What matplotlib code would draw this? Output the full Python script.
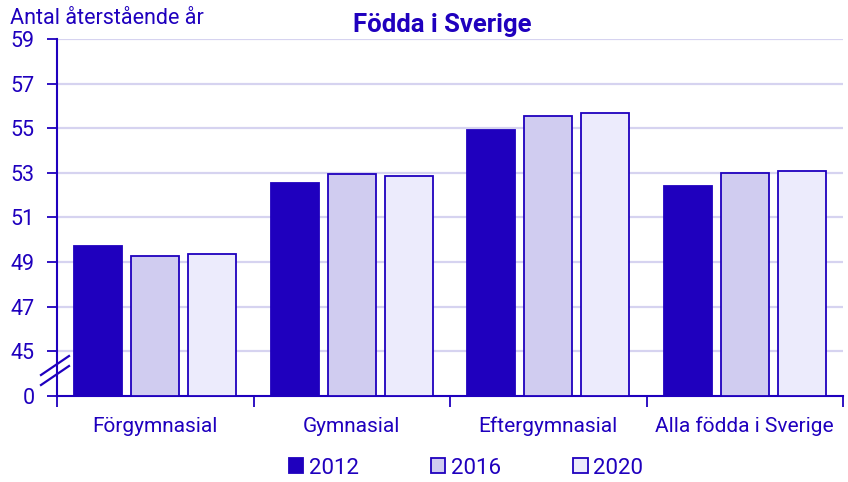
import matplotlib
matplotlib.use("Agg")
import matplotlib.pyplot as plt
from matplotlib.patches import Patch
from matplotlib.lines import Line2D
import numpy as np

plt.rcParams['font.family'] = ['Roboto', 'DejaVu Sans']

categories = ["Förgymnasial", "Gymnasial", "Eftergymnasial", "Alla födda i Sverige"]
years = ["2012", "2016", "2020"]
values_2012 = [49.72, 52.56, 54.91, 52.42]
values_2016 = [49.27, 52.95, 55.56, 52.98]
values_2020 = [49.36, 52.87, 55.70, 53.08]
ytick_values = [45, 47, 49, 51, 53, 55, 57, 59]

DARK = "#1f00be"
colors = [DARK, "#d0ccf0", "#ecebfc"]
GRID = "#d6d3f0"

# axis break: value 0 is drawn at position 43 (gap of two units)
ZERO_POS = 43

fig = plt.figure(figsize=(8.48, 4.82), dpi=100)
ax = fig.add_axes([57/848, 86/482, (843-57)/848, (396-39)/482])

x = np.arange(len(categories))
offsets = [-0.29, 0.0, 0.29]
width = 0.245
for vals, off, col, yr in zip([values_2012, values_2016, values_2020], offsets, colors, years):
    heights = [v - ZERO_POS for v in vals]
    ax.bar(x + off, heights, width=width, bottom=ZERO_POS, color=col,
           edgecolor=DARK, linewidth=1.3, zorder=3, label=yr)

ax.set_ylim(ZERO_POS, 59)
ax.set_xlim(-0.5, len(categories) - 0.5)
ax.set_yticks([ZERO_POS] + ytick_values)
ax.set_yticklabels(["0"] + [str(v) for v in ytick_values])
for v in ytick_values:
    ax.axhline(v, color=GRID, linewidth=1.6, zorder=1)

ax.set_xticks(x)
ax.set_xticklabels(categories)
ax.set_xticks(np.arange(len(categories) + 1) - 0.5, minor=True)
ax.tick_params(axis='x', which='major', length=0, pad=15, labelsize=15, labelcolor=DARK)
ax.tick_params(axis='x', which='minor', length=8, width=1.3, color=DARK)
ax.tick_params(axis='y', length=7, width=1.3, color=DARK, labelsize=15.5, labelcolor=DARK, pad=9)

for s in ['top', 'right']:
    ax.spines[s].set_visible(False)
for s in ['left', 'bottom']:
    ax.spines[s].set_color(DARK)
    ax.spines[s].set_linewidth(1.5)

# break marks
for dy in (0, 10):
    fig.add_artist(Line2D([41/848, 69/848], [(482-385+dy)/482, (482-366+dy)/482],
                          color=DARK, linewidth=1.6, transform=fig.transFigure))

fig.text(10/848, 1 - 18/482, "Antal återstående år", color=DARK, fontsize=15.5,
         ha='left', va='center')
fig.text(442/848, 1 - 25/482, "Födda i Sverige", color=DARK, fontsize=18.5,
         fontweight='bold', ha='center', va='center')

handles = [Patch(facecolor=c, edgecolor=DARK, linewidth=1.3) for c in colors]
fig.legend(handles, years, loc='center', bbox_to_anchor=(466/848, 1 - 468/482),
           ncol=3, frameon=False, fontsize=16, labelcolor=DARK,
           handlelength=0.65, handleheight=0.65, handletextpad=0.25, columnspacing=3.25)

fig.savefig("out.png", dpi=100)
